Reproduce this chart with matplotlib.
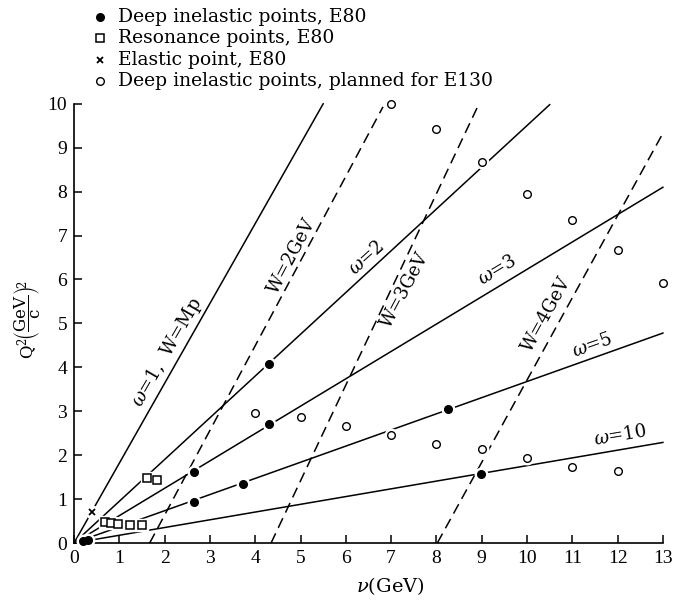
import matplotlib
matplotlib.use('Agg')
import matplotlib.pyplot as plt
from matplotlib.lines import Line2D

plt.rcParams['font.family'] = ['DejaVu Serif']
plt.rcParams['mathtext.fontset'] = 'dejavuserif'

# Data
deep_nu = [0.2, 0.3, 2.65, 2.65, 3.73, 4.3, 4.3, 8.26, 8.98]
deep_q2 = [0.04, 0.06, 1.62, 0.93, 1.35, 4.07, 2.71, 3.05, 1.58]

res_nu = [0.68, 0.81, 0.97, 1.23, 1.5, 1.61, 1.83]
res_q2 = [0.48, 0.46, 0.43, 0.42, 0.42, 1.49, 1.43]

elastic_nu = [0.39]
elastic_q2 = [0.71]

planned_nu = [4.0, 5.0, 6.0, 7.0, 8.0, 9.0, 10.0, 11.0, 12.0,
              7.0, 8.0, 9.0, 10.0, 11.0, 12.0, 13.0]
planned_q2 = [2.97, 2.88, 2.66, 2.45, 2.25, 2.14, 1.94, 1.74, 1.64,
              10.0, 9.42, 8.67, 7.94, 7.36, 6.66, 5.93]

# constant omega lines, from the origin to these end points
omega_labels = [r'$\omega$=1,  W=Mp', r'$\omega$=2', r'$\omega$=3', r'$\omega$=5', r'$\omega$=10']
omega_end_nu = [5.5, 10.5, 13.0, 13.0, 13.0]
omega_end_q2 = [10.0, 9.98, 8.1, 4.78, 2.29]
omega_label_pos = [(2.05, 4.35), (6.45, 6.5), (9.34, 6.2), (11.45, 4.5), (12.05, 2.45)]
omega_label_rot = [60, 42, 31, 19.5, 9.6]

# constant W lines (dashed)
w_labels = ['W=2GeV', 'W=3GeV', 'W=4GeV']
w_start_nu = [1.67, 4.35, 8.02]
w_end_nu = [6.82, 8.94, 13.0]
w_end_q2 = [9.93, 10.0, 9.33]
w_label_pos = [(4.81, 6.54), (7.3, 5.75), (10.44, 5.2)]
w_label_rot = [62, 62, 61]

legend_labels = ['Deep inelastic points, E80', 'Resonance points, E80',
                 'Elastic point, E80', 'Deep inelastic points, planned for E130']

fig = plt.figure(figsize=(6.73, 6.0), dpi=100)
ax = fig.add_axes([0.110, 0.095, 0.875, 0.732])

for nu, q2 in zip(omega_end_nu, omega_end_q2):
    ax.plot([0, nu], [0, q2], color='black', lw=1.1, zorder=2, clip_on=False)
for n0, n1, q2 in zip(w_start_nu, w_end_nu, w_end_q2):
    ax.plot([n0, n1], [0, q2], color='black', lw=1.1, ls=(0, (7, 4)), zorder=2, clip_on=False)

for lab, (x, y), r in zip(omega_labels, omega_label_pos, omega_label_rot):
    ax.text(x, y, lab, rotation=r, ha='center', va='center', fontsize=13,
            rotation_mode='anchor')
for lab, (x, y), r in zip(w_labels, w_label_pos, w_label_rot):
    ax.text(x, y, lab, rotation=r, ha='center', va='center', fontsize=13,
            rotation_mode='anchor')

# white halos under markers so the lines look broken around the points
halo = dict(ls='none', color='white', zorder=3, clip_on=False)
ax.plot(deep_nu, deep_q2, marker='o', ms=9, **halo)
ax.plot(res_nu, res_q2, marker='s', ms=9, **halo)
ax.plot(planned_nu, planned_q2, marker='o', ms=9, **halo)
ax.plot(elastic_nu, elastic_q2, marker='o', ms=9, **halo)

ax.plot(deep_nu, deep_q2, 'o', color='black', ms=5.5, zorder=4, clip_on=False)
ax.plot(res_nu, res_q2, 's', mfc='white', mec='black', mew=1.1, ms=6, zorder=4, clip_on=False)
ax.plot(planned_nu, planned_q2, 'o', mfc='white', mec='black', mew=1.0, ms=5.5, zorder=4, clip_on=False)
ax.plot(elastic_nu, elastic_q2, 'x', color='black', mew=1.3, ms=4.5, zorder=4, clip_on=False)

ax.set_xlim(0, 13)
ax.set_ylim(0, 10)
ax.set_xticks(range(0, 14))
ax.set_yticks(range(0, 11))
ax.tick_params(direction='in', length=6, width=1.1, labelsize=14, pad=5)
for t in ax.get_xticklabels() + ax.get_yticklabels():
    t.set_fontfamily('Liberation Serif')
for s in ['top', 'right']:
    ax.spines[s].set_visible(False)
for s in ['left', 'bottom']:
    ax.spines[s].set_linewidth(1.2)

fig.text(390 / 673, 1 - 586 / 600, r'$\nu$(GeV)', fontsize=14, ha='center', va='center')
fig.text(28 / 673, 1 - 320 / 600,
         r'$\mathrm{Q}^2\!\left(\dfrac{\mathrm{GeV}}{\mathrm{c}}\right)^{\!2}$',
         fontsize=12, rotation=90, ha='center', va='center')

# legend drawn by hand at the top left
legend_handles = [
    dict(marker='o', color='black', ms=5.5),
    dict(marker='s', mfc='white', mec='black', mew=1.1, ms=5.5),
    dict(marker='x', color='black', mew=1.3, ms=4.5),
    dict(marker='o', mfc='white', mec='black', mew=1.0, ms=5.5),
]
for i, (lab, st) in enumerate(zip(legend_labels, legend_handles)):
    yy = 1 - (17 + 21.3 * i) / 600
    fig.add_artist(Line2D([100 / 673], [yy], ls='none', transform=fig.transFigure, **st))
    fig.text(118 / 673, yy, lab, fontsize=13.5, ha='left', va='center')

fig.savefig('out.png', dpi=100)
